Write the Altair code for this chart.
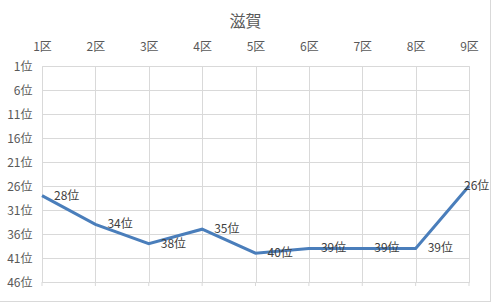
import altair as alt
import pandas as pd

districts = ["1区", "2区", "3区", "4区", "5区", "6区", "7区", "8区", "9区"]
ranks = [28, 34, 38, 35, 40, 39, 39, 39, 26]
rank_ticks = [1, 6, 11, 16, 21, 26, 31, 36, 41, 46]
title_text = "滋賀"

df = pd.DataFrame({"区": districts, "順位": ranks})
df["label"] = [f"{r}位" for r in ranks]
df["idx"] = list(range(len(districts)))
last_idx = len(districts) - 1

FONT = "Noto Sans CJK JP"
GRID = "#d9d9d9"

x_enc = alt.X(
    "区:N",
    sort=districts,
    scale=alt.Scale(type="point", domain=districts, padding=0),
    axis=alt.Axis(
        orient="top", title=None, labelAngle=0, ticks=False, domain=False,
        grid=True, gridColor=GRID, labelPadding=13, labelFontSize=12,
        labelColor="#595959", labelFont=FONT,
    ),
)
y_enc = alt.Y(
    "順位:Q",
    scale=alt.Scale(domain=[1, 46], reverse=True, nice=False, zero=False),
    axis=alt.Axis(
        values=rank_ticks, title=None, ticks=False, domain=False,
        grid=True, gridColor=GRID, labelExpr="datum.value + '位'",
        labelPadding=10, labelFontSize=12, labelColor="#595959", labelFont=FONT,
        labelOverlap=False,
    ),
)

base = alt.Chart(df)

line = base.mark_line(color="#4A7EBB", strokeWidth=3).encode(x=x_enc, y=y_enc)

bottom_ticks = base.mark_rule(color=GRID).encode(
    x=x_enc,
    y=alt.value(216),
    y2=alt.value(220),
)

labels = base.transform_filter(alt.datum.idx < last_idx).mark_text(
    align="left", baseline="middle", dx=12, fontSize=12, color="#404040", font=FONT
).encode(x=x_enc, y=y_enc, text="label:N")

last_label = base.transform_filter(alt.datum.idx == last_idx).mark_text(
    align="left", baseline="middle", dx=-5, fontSize=12, color="#404040", font=FONT
).encode(x=x_enc, y=y_enc, text="label:N")

title = alt.Chart(pd.DataFrame({"t": [title_text]})).mark_text(
    align="center", baseline="middle", fontSize=16, color="#595959", font=FONT
).encode(x=alt.value(203.5), y=alt.value(-44.5), text="t:N")

border_r = base.mark_rule(color=GRID).encode(
    x=alt.value(448.5), y=alt.value(-66), y2=alt.value(235.5)
)
border_b = base.mark_rule(color=GRID).encode(
    x=alt.value(-42), x2=alt.value(449), y=alt.value(235.5)
)

chart = alt.layer(line, bottom_ticks, labels, last_label, title, border_r, border_b).properties(
    width=427,
    height=216,
    autosize=alt.AutoSizeParams(type="none"),
    padding={"left": 42, "top": 66, "right": 24, "bottom": 20},
).configure_view(stroke=None).configure(background="white")

chart.save("out.html", embed_options={"renderer": "svg", "actions": False})
